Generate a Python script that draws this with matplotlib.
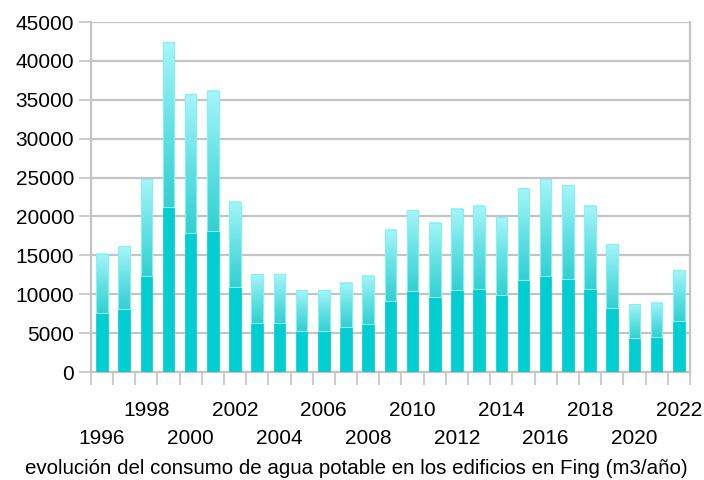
import matplotlib
matplotlib.use("Agg")
import matplotlib.pyplot as plt
import numpy as np
from matplotlib.colors import LinearSegmentedColormap
from matplotlib.transforms import blended_transform_factory

years = list(range(1996, 2023))
consumo = [15200, 16200, 24800, 42400, 35700, 36200, 21900, 12600, 12600, 10500,
           10500, 11500, 12400, 18300, 20800, 19200, 21000, 21400, 19900, 23600,
           24800, 24000, 21400, 16400, 8700, 8900, 13100]
yticks = list(range(0, 45001, 5000))
title = "evolución del consumo de agua potable en los edificios en Fing (m3/año)"

plt.rcParams['font.family'] = ['Liberation Sans', 'DejaVu Sans']

fig = plt.figure(figsize=(7.04, 4.80), dpi=100)
ax = fig.add_axes([0.129, 0.225, 0.851, 0.729])

x = np.arange(len(years))
vals = np.array(consumo, dtype=float)
half = vals / 2.0
width = 0.52

solid = "#00CED0"
ax.bar(x, half, width=width, color=solid, edgecolor=solid, linewidth=0.5, zorder=3)
tops = ax.bar(x, vals - half, bottom=half, width=width, color="none",
              edgecolor="#86F1F4", linewidth=0.8, zorder=4)

cmap = LinearSegmentedColormap.from_list("g", ["#33D0D2", "#66E2E5", "#A6F6F9"])
grad = np.linspace(0, 1, 256).reshape(-1, 1)
for p in tops.patches:
    x0, y0 = p.get_x(), p.get_y()
    w, h = p.get_width(), p.get_height()
    ax.imshow(grad, cmap=cmap, origin="lower", aspect="auto",
              extent=[x0, x0 + w, y0, y0 + h], zorder=3.5, interpolation="bilinear")

ax.set_xlim(-0.5, len(years) - 0.5)
ax.set_ylim(0, 45000)
ax.set_aspect("auto")

ax.set_yticks(yticks)
ax.set_yticklabels([str(t) for t in yticks], fontsize=15)
ax.yaxis.grid(True, color="#C4C4C4", linewidth=1.6, zorder=0)
ax.set_axisbelow(True)

ax.set_xticks(np.arange(len(years) + 1) - 0.5)
ax.set_xticklabels([])
ax.tick_params(axis="x", length=9, width=1.2, color="#C4C4C4", direction="out")
ax.tick_params(axis="y", length=9, width=1.2, color="#C4C4C4", direction="out", pad=3)

for s in ["left", "right", "bottom"]:
    ax.spines[s].set_color("#C4C4C4")
    ax.spines[s].set_linewidth(1.6)
ax.spines["top"].set_visible(False)

trans = blended_transform_factory(ax.transData, ax.transAxes)
for i, yr in enumerate(years):
    if (yr - years[0]) % 4 == 2:
        ax.text(i, -0.109, str(yr), transform=trans, ha="center", va="center", fontsize=15)
    elif (yr - years[0]) % 4 == 0:
        ax.text(i, -0.189, str(yr), transform=trans, ha="center", va="center", fontsize=15)

fig.text(0.506, 0.024, title, ha="center", va="center", fontsize=14.8)

fig.savefig("out.png", dpi=100)
